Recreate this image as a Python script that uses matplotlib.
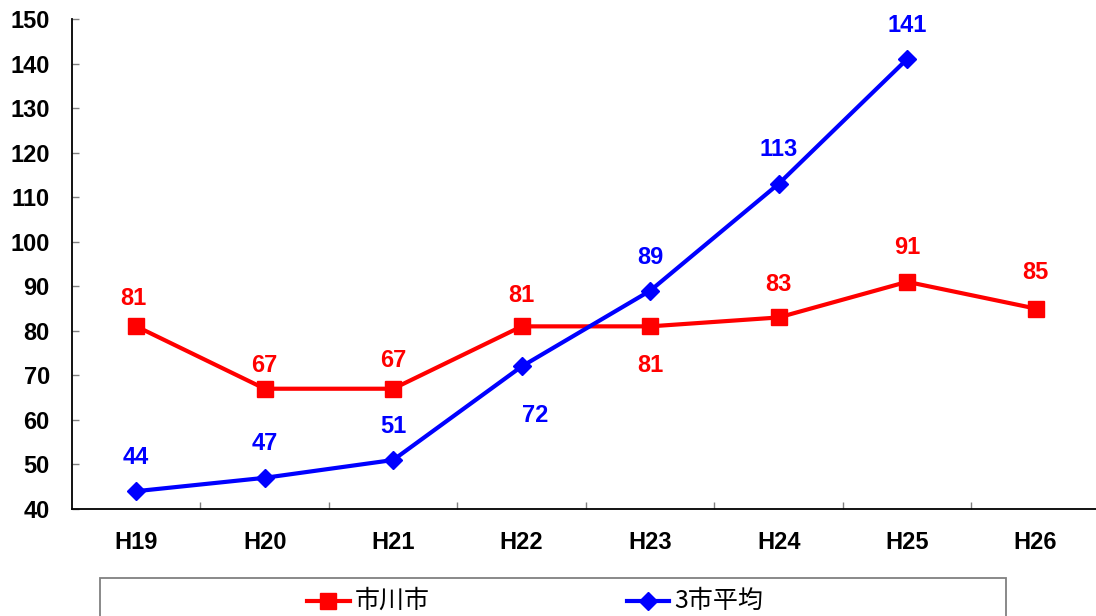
import matplotlib.pyplot as plt
from matplotlib.lines import Line2D
from matplotlib.patches import Rectangle

plt.rcParams['font.family'] = ['Liberation Sans', 'Noto Sans CJK JP', 'DejaVu Sans']

# data
years = ['H19', 'H20', 'H21', 'H22', 'H23', 'H24', 'H25', 'H26']
ichikawa = [81, 67, 67, 81, 81, 83, 91, 85]
avg3 = [44, 47, 51, 72, 89, 113, 141]
# label offsets (points) for each value label
ichikawa_off = [(-2, 20), (0, 17), (0, 20), (0, 22), (0, -28), (0, 24), (0, 25), (0, 26)]
avg3_off = [(0, 24), (0, 25), (0, 24), (10, -35), (0, 24), (0, 25), (0, 24)]

RED = '#ff0000'
BLUE = '#0000ff'

fig = plt.figure(figsize=(10.96, 6.16), dpi=100)
ax = fig.add_axes([72 / 1096, 107 / 616, 1 - 72 / 1096, (509 - 19) / 616])

x = list(range(len(years)))
ax.plot(x, ichikawa, color=RED, lw=3, marker='s', ms=11.5, zorder=3, clip_on=False)
ax.plot(x[:len(avg3)], avg3, color=BLUE, lw=3, marker='D', ms=9, zorder=4, clip_on=False)

for i, v in enumerate(ichikawa):
    ax.annotate(str(v), (i, v), xytext=ichikawa_off[i], textcoords='offset points',
                ha='center', va='center', color=RED, fontsize=17, fontweight='bold')
for i, v in enumerate(avg3):
    ax.annotate(str(v), (i, v), xytext=avg3_off[i], textcoords='offset points',
                ha='center', va='center', color=BLUE, fontsize=17, fontweight='bold')

ax.set_ylim(40, 150)
ax.set_xlim(-0.5, 7.47)
ax.set_yticks(range(40, 151, 10))
ax.set_xticks(x)
ax.set_xticklabels(years)
ax.set_xticks([i + 0.5 for i in range(7)], minor=True)
ax.tick_params(axis='y', direction='in', length=5, width=1, color='#808080', pad=16, labelsize=17)
ax.tick_params(axis='x', which='major', length=0, pad=16, labelsize=17)
ax.tick_params(axis='x', which='minor', direction='in', length=5, width=1, color='#808080')
for lab in ax.get_xticklabels() + ax.get_yticklabels():
    lab.set_fontweight('bold')

ax.spines['top'].set_visible(False)
ax.spines['right'].set_visible(False)
ax.spines['left'].set_linewidth(1.3)
ax.spines['bottom'].set_linewidth(1.3)

# legend box
W, H = 1096, 616
fig.add_artist(Rectangle((100 / W, -0.05), 906 / W, (616 - 578) / H + 0.05,
                         transform=fig.transFigure, fill=False, edgecolor='#808080', lw=1.3))
ly = 1 - 601 / H
fig.add_artist(Line2D([307 / W, 328 / W, 350 / W], [ly, ly, ly], transform=fig.transFigure,
                      color=RED, lw=3, marker='s', ms=11, markevery=[1]))
fig.text(355 / W, ly, '市川市', fontsize=18, va='center', ha='left',
         family=['Noto Sans CJK JP', 'DejaVu Sans'])
fig.add_artist(Line2D([627 / W, 648 / W, 669 / W], [ly, ly, ly], transform=fig.transFigure,
                      color=BLUE, lw=3, marker='D', ms=9, markevery=[1]))
fig.text(674 / W, ly, '3市平均', fontsize=18, va='center', ha='left',
         family=['Noto Sans CJK JP', 'DejaVu Sans'])

fig.savefig('out.png', dpi=100)
